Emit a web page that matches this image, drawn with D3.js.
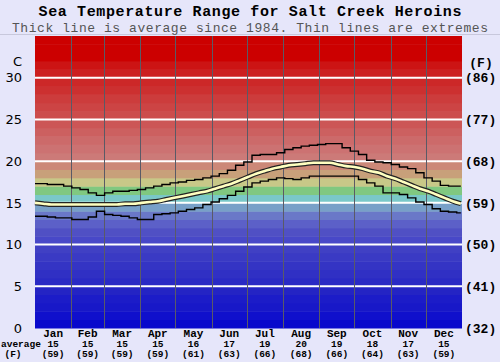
<!DOCTYPE html>
<html><head><meta charset="utf-8">
<script src="https://cdn.jsdelivr.net/npm/d3@7"></script>
<style>
html,body{margin:0;padding:0;background:#e6e6fa;}
svg{display:block;}
</style></head>
<body>
<script>
// ---- data ----
const months = ["Jan","Feb","Mar","Apr","May","Jun","Jul","Aug","Sep","Oct","Nov","Dec"];
const monthStartDays = [0,31,59,90,120,151,181,212,243,273,304,334,365];
const monthAvgC = [15,15,15,15,16,17,19,20,19,18,17,15];
const monthAvgF = [59,59,59,59,61,63,66,68,66,64,63,59];
const ticksC = [0,5,10,15,20,25,30];
const ticksF = [32,41,50,59,68,77,86];
const days = [0,7,14,21,28,35,42,49,56,63,70,77,84,91,98,105,112,119,126,133,140,147,154,161,168,175,182,189,196,203,210,217,224,231,238,245,252,259,266,273,280,287,294,301,308,315,322,329,336,343,350,357,364];
const maxTemp = [17.3,17.3,17.2,17.2,17.0,16.8,16.6,16.2,15.9,16.2,16.4,16.4,16.5,16.6,16.8,17.0,17.2,17.4,17.5,17.7,17.8,18.0,18.2,18.5,18.9,19.5,19.9,20.7,20.8,20.8,21.0,21.4,21.6,21.8,21.9,22.0,22.1,22.1,21.6,21.2,20.8,20.1,19.9,19.8,19.6,19.3,19.1,18.6,18.0,17.6,17.1,17.0,17.0];
const avgTemp = [15.0,14.9,14.8,14.8,14.8,14.8,14.8,14.8,14.8,14.8,14.8,14.9,14.9,15.0,15.1,15.2,15.4,15.6,15.8,16.0,16.2,16.4,16.7,17.0,17.3,17.7,18.1,18.5,18.8,19.1,19.3,19.5,19.6,19.7,19.8,19.8,19.8,19.6,19.4,19.3,19.1,18.8,18.6,18.2,17.9,17.5,17.1,16.7,16.4,16.0,15.6,15.2,14.9];
const minTemp = [13.4,13.4,13.3,13.2,13.2,13.0,13.0,13.3,14.0,13.6,13.5,13.4,13.2,13.0,13.0,13.6,13.7,13.8,14.0,14.2,14.4,14.8,15.1,15.5,15.9,16.4,16.9,17.4,17.6,17.8,18.0,17.9,17.8,18.0,18.2,18.2,18.2,18.2,18.2,18.2,17.8,17.4,17.0,16.2,16.2,16.0,15.6,15.1,14.8,14.3,14.0,13.9,13.8];
// band colours, one per degree from 0 upward (style)
const bandColors = ["#0808cc","#1010cc","#1818c8","#1c1cc8","#2424c4","#2a2ac4","#3030c4","#3434c4","#3a3ac4","#4040c4","#4848c8","#5050c4","#5c60c8","#6a78c8","#78a0c8","#7ac8c8","#80c880","#c8c888","#c8a07a","#cc8878","#cc7a78","#cc7272","#cc6a6a","#cc6060","#cc5656","#cc4c4c","#cc4444","#cc3c3c","#cc3030","#cc2828","#cc2020","#cc1414","#cc0000","#cc0000","#cc0000"];

const W = 500, H = 362;
const L = 35, R = 462, T = 36, B = 328;
const svg = d3.select("body").append("svg").attr("width", W).attr("height", H);
svg.append("rect").attr("width", W).attr("height", H).attr("fill", "#e6e6fa");

const x = d3.scaleLinear().domain([0,365]).range([L,R]);
const y = d3.scaleLinear().domain([0,35]).range([B,T]);

// separator line under subtitle
svg.append("line").attr("x1",0).attr("x2",W).attr("y1",34.5).attr("y2",34.5).attr("stroke","#c8c8dc").attr("stroke-width",1);

// bands
svg.append("g").selectAll("rect").data(bandColors).join("rect")
  .attr("x", L).attr("width", R-L)
  .attr("y", (c,i)=>y(i+1)).attr("height", (c,i)=>y(i)-y(i+1)+0.5)
  .attr("fill", c=>c);

// white grid lines
svg.append("g").selectAll("line").data(ticksC.filter(t=>t>0)).join("line")
  .attr("x1", L).attr("x2", R).attr("y1", d=>y(d)).attr("y2", d=>y(d))
  .attr("stroke", "#ffffff").attr("stroke-width", 2);

// month lines
svg.append("g").selectAll("line").data(monthStartDays.slice(1,12)).join("line")
  .attr("x1", d=>Math.round(x(d))+0.5).attr("x2", d=>Math.round(x(d))+0.5).attr("y1", T).attr("y2", B)
  .attr("stroke", "#5a5a66").attr("stroke-width", 1);

const pts = arr => days.map((d,i)=>[d, arr[i]]);
const stepLine = d3.line().x(d=>x(d[0])).y(d=>y(d[1])).curve(d3.curveStep);
const smoothLine = d3.line().x(d=>x(d[0])).y(d=>y(d[1])).curve(d3.curveMonotoneX);

svg.append("path").attr("d", stepLine(pts(maxTemp))).attr("fill","none").attr("stroke","#000").attr("stroke-width",1.4);
svg.append("path").attr("d", stepLine(pts(minTemp))).attr("fill","none").attr("stroke","#000").attr("stroke-width",1.4);
svg.append("path").attr("d", smoothLine(pts(avgTemp))).attr("fill","none").attr("stroke","#222").attr("stroke-width",5);
svg.append("path").attr("d", smoothLine(pts(avgTemp))).attr("fill","none").attr("stroke","#ffffc0").attr("stroke-width",2.6);

// titles
svg.append("text").attr("x", W/2).attr("y", 16).attr("text-anchor","middle")
  .attr("font-family","'Liberation Mono', monospace").attr("font-weight","bold").attr("font-size",15).attr("fill","#000")
  .attr("textLength",423).attr("lengthAdjust","spacing")
  .text("Sea Temperature Range for Salt Creek Heroins");
svg.append("text").attr("x", W/2).attr("y", 31.5).attr("text-anchor","middle")
  .attr("font-family","'Liberation Mono', monospace").attr("font-size",13).attr("fill","#555")
  .attr("textLength",476).attr("lengthAdjust","spacing")
  .text("Thick line is average since 1984. Thin lines are extremes");

// left axis
const leftAxis = svg.append("g").attr("font-family","'DejaVu Sans', sans-serif").attr("font-size",13).attr("fill","#000");
leftAxis.selectAll("text.c").data(ticksC).join("text").attr("class","c")
  .attr("x", 22).attr("y", d=>y(d)).attr("dy","0.36em").attr("text-anchor","end").text(d=>d);
leftAxis.append("text").attr("x",22).attr("y",61).attr("dy","0.36em").attr("text-anchor","end").text("C");

// right axis
const rightAxis = svg.append("g").attr("font-family","'Liberation Mono', monospace").attr("font-weight","bold").attr("font-size",13).attr("fill","#000");
rightAxis.selectAll("text.f").data(ticksC).join("text").attr("class","f")
  .attr("x", 465).attr("y", d=>y(d)).attr("dy","0.36em").text((d,i)=>"("+ticksF[i]+")");
rightAxis.append("text").attr("x",481).attr("y",62).attr("dy","0.36em").attr("text-anchor","middle").text("(F)");

// bottom labels
const bottom = svg.append("g").attr("font-family","'Liberation Mono', monospace").attr("font-weight","bold").attr("fill","#000");
const mid = i => x((monthStartDays[i]+monthStartDays[i+1])/2);
bottom.selectAll("text.m").data(months).join("text").attr("class","m")
  .attr("x",(d,i)=>mid(i)).attr("y",337).attr("text-anchor","middle").attr("font-size",11).text(d=>d);
bottom.selectAll("text.v").data(monthAvgC).join("text").attr("class","v")
  .attr("x",(d,i)=>mid(i)).attr("y",347).attr("text-anchor","middle").attr("font-size",9.5).text(d=>d);
bottom.selectAll("text.f").data(monthAvgF).join("text").attr("class","f")
  .attr("x",(d,i)=>mid(i)).attr("y",357).attr("text-anchor","middle").attr("font-size",9.5).text(d=>"("+d+")");
bottom.append("text").attr("x",1).attr("y",347).attr("font-size",9.5).text("average");
bottom.append("text").attr("x",13).attr("y",357).attr("text-anchor","middle").attr("font-size",9.5).text("(F)");
</script>
</body></html>
